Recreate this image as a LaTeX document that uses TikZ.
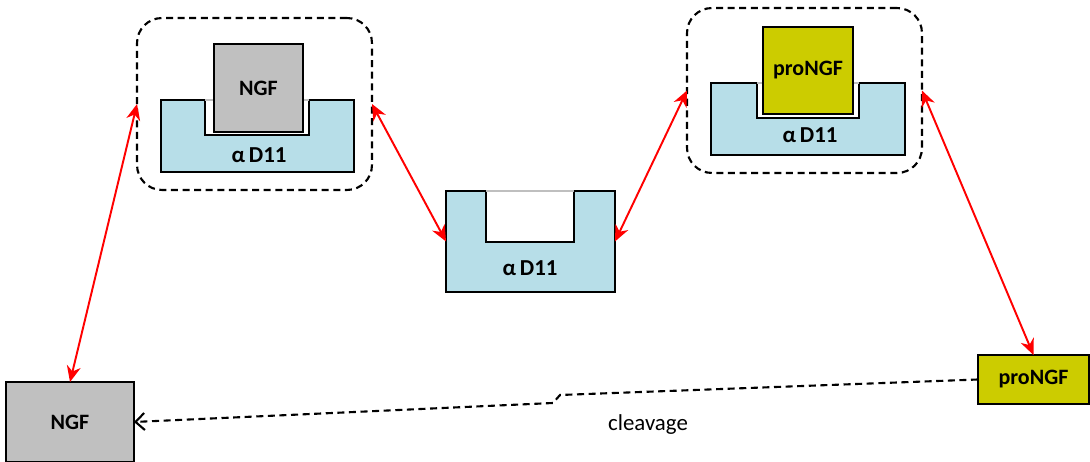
\documentclass[tikz,border=0pt]{standalone}
\usepackage{fontspec}
\setmainfont{Carlito}
\usetikzlibrary{positioning,arrows.meta}

\definecolor{dblue}{RGB}{183,222,232}
\definecolor{ngfgray}{RGB}{192,192,192}
\definecolor{proolive}{RGB}{204,204,0}

\tikzset{
    complex/.style={draw, dash pattern=on 4pt off 2.6pt, line width=1.2pt, rounded corners=0.5cm, inner sep=0pt, outer sep=0pt},
    ligand/.style={draw, line width=0.6pt, inner sep=0pt, outer sep=0pt, font=\fontsize{12.5}{14}\selectfont\bfseries},
    binding/.style={red, line width=1.1pt, {Stealth[length=3.2mm,width=2.8mm]}-{Stealth[length=3.2mm,width=2.8mm]}},
    cleave/.style={dash pattern=on 4pt off 2.6pt, line width=1.2pt, -{Straight Barb[length=1.8mm,width=3.4mm]}},
    dlabel/.style={font=\fontsize{13}{15}\selectfont\bfseries}
}

\begin{document}
\begin{tikzpicture}[x=0.02cm, y=-0.02cm]
    \useasboundingbox (0,0) rectangle (1090,462);

    % NGF bound to alphaD11
    \node[complex, minimum width=4.7cm, minimum height=3.44cm] (cplxngf) at (254.5,104) {};
    \draw[fill=dblue, line width=0.6pt] (161,100) -- (205,100) -- (205,135) -- (309,135) -- (309,100) -- (354,100) -- (354,172) -- (161,172) -- cycle;
    \draw[gray!50, line width=0.6pt] (205,100) -- (309,100);
    \node[ligand, fill=ngfgray, minimum width=1.78cm, minimum height=1.76cm] (ngfin) at (258.5,88) {NGF};
    \node[dlabel] (d11a) at (259,155) {α\,D11};

    % free alphaD11
    \node[draw, fill=dblue, line width=0.6pt, minimum width=3.38cm, minimum height=2.02cm, inner sep=0pt, outer sep=0pt] (d11) at (530.5,241.5) {};
    \draw[fill=white, line width=0.6pt] (486,191) -- (486,242) -- (574,242) -- (574,191);
    \draw[gray!50, line width=0.6pt] (486,191) -- (574,191);
    \node[dlabel] (d11b) at (530,268) {α\,D11};

    % proNGF bound to alphaD11
    \node[complex, minimum width=4.7cm, minimum height=3.3cm] (cplxpro) at (804.5,90.5) {};
    \draw[fill=dblue, line width=0.6pt] (711,83) -- (757,83) -- (757,118) -- (859,118) -- (859,83) -- (905,83) -- (905,155) -- (711,155) -- cycle;
    \draw[gray!50, line width=0.6pt] (757,83) -- (859,83);
    \node[ligand, fill=proolive, minimum width=1.8cm, minimum height=1.74cm] (proin) at (808,70.5) {proNGF};
    \node[dlabel] (d11c) at (810,135) {α\,D11};

    % free ligands
    \node[ligand, fill=ngfgray, minimum width=2.56cm, minimum height=1.6cm] (ngf) at (70,422) {NGF};
    \node[ligand, fill=proolive, minimum width=2.22cm, minimum height=0.98cm] (pro) at (1033.5,379.5) {proNGF};

    % equilibria
    \draw[binding] (ngf.north) -- (cplxngf.west);
    \draw[binding] (cplxngf.east) -- (d11.west);
    \draw[binding] (d11.east) -- (cplxpro.west);
    \draw[binding] (cplxpro.east) -- (pro.north);

    % cleavage
    \draw[cleave] (pro.west) -- (560,395) -- (553,403) -- (ngf.east);
    \node[font=\fontsize{13}{15}\selectfont] (cleavlbl) at (648,425) {cleavage};
\end{tikzpicture}
\end{document}
